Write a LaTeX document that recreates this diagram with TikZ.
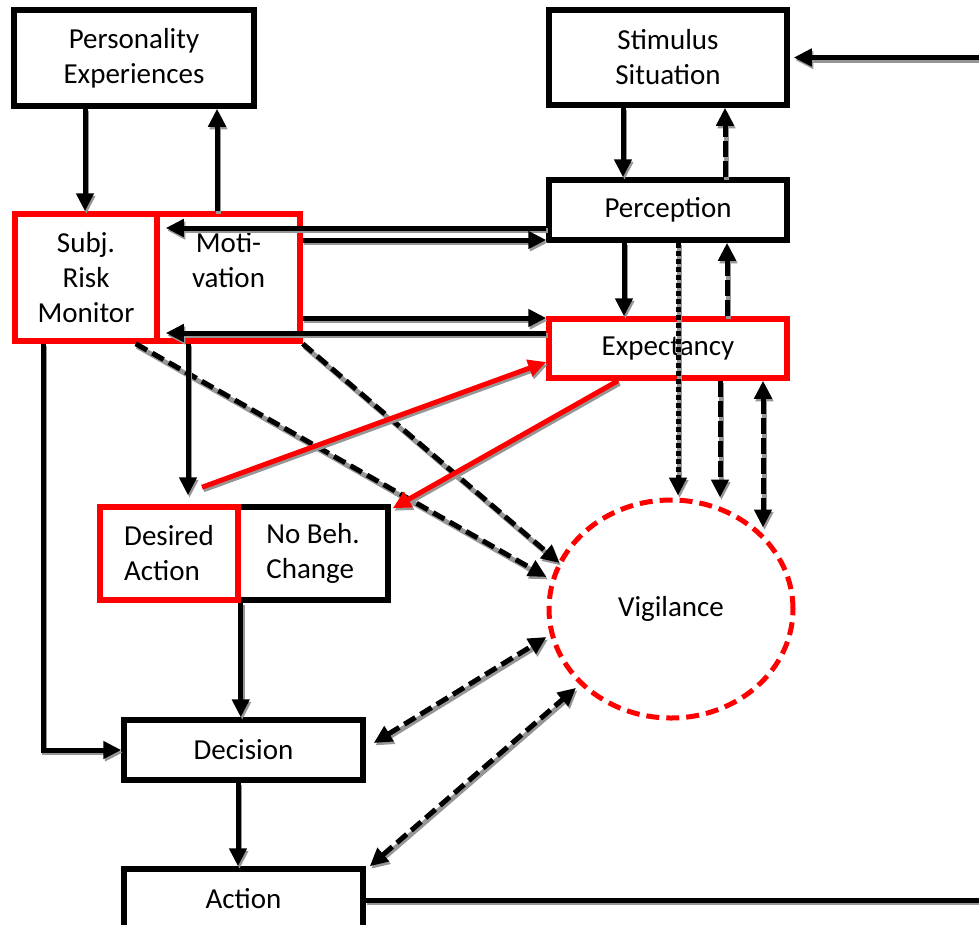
\documentclass[tikz,border=0pt]{standalone}
\usepackage{fontspec}
\setmainfont{Carlito}
\usetikzlibrary{arrows.meta,shapes.geometric,calc}
\definecolor{rd}{RGB}{255,0,0}
\definecolor{shd}{RGB}{150,150,150}
\begin{document}
\begin{tikzpicture}[x=1pt,y=-1pt,
  box/.style={draw=black,line width=5.5pt,fill=white,rectangle,inner sep=0pt,align=center,
    font=\fontsize{29}{35}\selectfont},
  rbox/.style={box,draw=rd},
  shadow/.style={preaction={draw=shd,line width=5pt,transform canvas={xshift=1.5pt,yshift=-2.5pt}}},
  conn/.style={line width=5pt,draw=black,shadow},
  tip/.tip={Triangle[length=18pt,width=17pt]},
  arr/.style={conn,-tip},
  dbl/.style={conn,tip-tip},
  longdash/.style={dash pattern=on 16pt off 4pt},
  densedot/.style={dash pattern=on 5pt off 3pt},
  diagdash/.style={dash pattern=on 13pt off 6pt},
  redarr/.style={line width=5pt,draw=rd,-tip,shadow}
]
\useasboundingbox (0,0) rectangle (979,924);
\clip (0,0) rectangle (979,924);

% nodes
\node[box,minimum width=240pt,minimum height=96pt] (pers) at (134,58) {Personality\\Experiences};
\node[box,minimum width=238pt,minimum height=95pt] (stim) at (668,57.5) {Stimulus\\Situation};
\node[box,minimum width=238pt,minimum height=60pt] (perc) at (668,210) {Perception};
\node[rbox,minimum width=238pt,minimum height=59pt] (expt) at (668,348.5) {Expectancy};
\node[rbox,minimum width=142pt,minimum height=127pt] (srm) at (86,277.5) {Subj.\\Risk\\Monitor};
\node[rbox,minimum width=143pt,minimum height=127pt] (motiv) at (228.5,277.5) {Moti-\\vation\\\mbox{}};
\node[box,minimum width=150pt,minimum height=93pt,align=left] (nobeh) at (313,553.5) {No Beh.\\Change};
\node[rbox,minimum width=138pt,minimum height=93pt,align=left] (desired) at (169,553.5) {Desired\\Action};
\node[box,minimum width=239pt,minimum height=60pt] (decision) at (243.5,750) {Decision};
\node[box,minimum width=239pt,minimum height=60pt] (action) at (243.5,899) {Action};
\node[box,ellipse,draw=rd,line width=5pt,dash pattern=on 13pt off 7pt,minimum width=244pt,minimum height=218pt] (vig) at (671,609) {Vigilance};

% vertical connectors top
\draw[arr] ([xshift=-49pt]pers.south) -- ([xshift=-1pt]srm.north);
\draw[arr] ([xshift=-11.5pt]motiv.north) -- ([xshift=83pt]pers.south);
\draw[arr] ([xshift=-45pt]stim.south) -- ([xshift=-45pt]perc.north);
\draw[arr,longdash] ([xshift=57pt]perc.north) -- ([xshift=57pt]stim.south);
\draw[arr] ([xshift=-44pt]perc.south) -- ([xshift=-44pt]expt.north);
\draw[arr,longdash] ([xshift=59pt]expt.north) -- ([xshift=59pt]perc.south);
\draw[arr,densedot] ([xshift=10pt]perc.south) -- ([xshift=7pt,yshift=2pt]vig.north);
\draw[arr,longdash] ([xshift=52pt]expt.south) -- ([xshift=49pt]vig.north);
\draw[dbl,longdash] ([xshift=95pt]expt.south) -- ([xshift=92pt,yshift=-30pt]vig.north);

% horizontal connectors
\draw[arr] ([yshift=-18pt]perc.west) -- ([xshift=6pt,yshift=49.5pt]srm.east);
\draw[arr] ([yshift=37.5pt]motiv.east) -- ([yshift=-30pt]perc.west);
\draw[arr] ([yshift=-40.5pt]motiv.east) -- ([yshift=30.5pt]expt.west);
\draw[arr] ([yshift=15.5pt]expt.west) -- ([xshift=6pt,yshift=-55.5pt]srm.east);

% diagonal dashed to vigilance
\draw[arr,diagdash] ([xshift=-24pt]srm.south east) -- ([yshift=32pt]vig.west);
\draw[arr,diagdash] (motiv.south east) -- ([xshift=13pt,yshift=46pt]vig.west);

% motivation to desired action
\draw[arr] ([xshift=-40.5pt]motiv.south) -- ([xshift=19pt,yshift=9pt]desired.north);

% red connectors
\draw[redarr] ([xshift=33pt,yshift=17pt]desired.north) -- ([yshift=-13.5pt]expt.west);
\draw[redarr] ([xshift=-50pt]expt.south) -- ([xshift=2pt,yshift=-4pt]nobeh.north east);

% lower connectors
\draw[arr] (desired.south east) -- (decision.north -| desired.south east);
\draw[arr] ([xshift=-5.5pt]decision.south) -- ([xshift=-5.5pt]action.north);
\draw[arr] ([xshift=-43pt]srm.south) |- (decision.west);
\draw[dbl,diagdash] ([xshift=8pt,yshift=7pt]decision.east) -- ([yshift=-28pt]vig.west);
\draw[dbl,diagdash] ([xshift=4pt]action.north east) -- ([xshift=-7pt]vig.south west);

% feedback loop (leaves the frame)
\coordinate (outr) at (1010,900);
\draw[arr] ([yshift=-1pt]action.east) -- (outr) |- ([xshift=4pt]stim.east);
\end{tikzpicture}
\end{document}
